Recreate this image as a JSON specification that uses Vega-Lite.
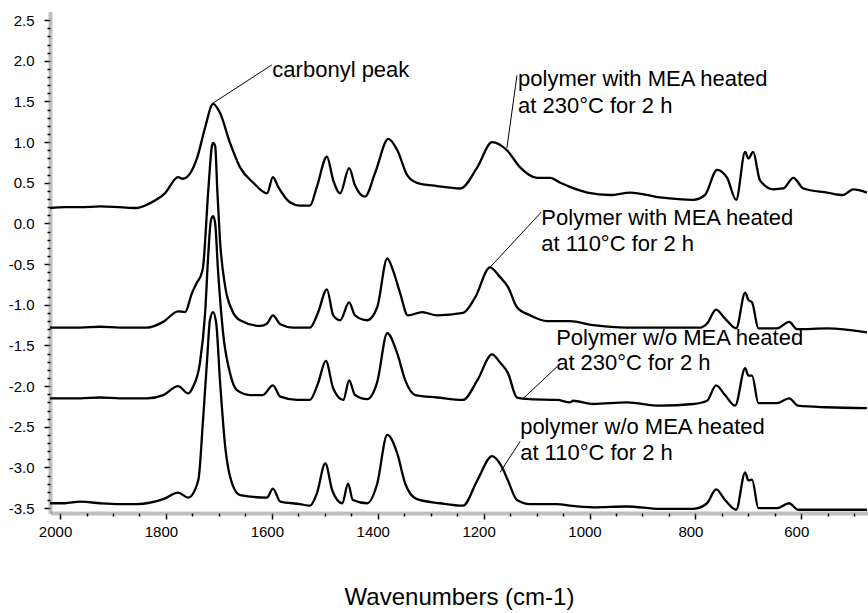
{
  "$schema": "https://vega.github.io/schema/vega-lite/v6.json",
  "width": 818,
  "height": 501,
  "autosize": {"type": "none"},
  "padding": {"left": 50, "top": 12, "right": 0, "bottom": 100},
  "background": "white",
  "config": {"view": {"stroke": null}, "font": "Liberation Sans"},
  "datasets": {
    "spec": [
      {"s":"A","w":2019,"a":0.19},{"s":"A","w":1991,"a":0.2},{"s":"A","w":1962,"a":0.2},{"s":"A","w":1924,"a":0.21},{"s":"A","w":1887,"a":0.2},{"s":"A","w":1855,"a":0.19},{"s":"A","w":1830,"a":0.25},{"s":"A","w":1802,"a":0.37},{"s":"A","w":1777,"a":0.57},{"s":"A","w":1768,"a":0.55},{"s":"A","w":1741,"a":0.81},{"s":"A","w":1726,"a":1.18},{"s":"A","w":1711,"a":1.47},{"s":"A","w":1698,"a":1.36},{"s":"A","w":1679,"a":0.99},{"s":"A","w":1660,"a":0.69},{"s":"A","w":1635,"a":0.5},{"s":"A","w":1609,"a":0.37},{"s":"A","w":1598,"a":0.57},{"s":"A","w":1588,"a":0.45},{"s":"A","w":1566,"a":0.26},{"s":"A","w":1547,"a":0.22},{"s":"A","w":1528,"a":0.22},{"s":"A","w":1515,"a":0.45},{"s":"A","w":1496,"a":0.82},{"s":"A","w":1484,"a":0.53},{"s":"A","w":1471,"a":0.37},{"s":"A","w":1454,"a":0.68},{"s":"A","w":1443,"a":0.47},{"s":"A","w":1424,"a":0.33},{"s":"A","w":1405,"a":0.62},{"s":"A","w":1380,"a":1.04},{"s":"A","w":1363,"a":0.9},{"s":"A","w":1344,"a":0.59},{"s":"A","w":1326,"a":0.5},{"s":"A","w":1288,"a":0.46},{"s":"A","w":1244,"a":0.43},{"s":"A","w":1212,"a":0.69},{"s":"A","w":1184,"a":1.0},{"s":"A","w":1156,"a":0.9},{"s":"A","w":1131,"a":0.69},{"s":"A","w":1099,"a":0.56},{"s":"A","w":1074,"a":0.56},{"s":"A","w":1055,"a":0.5},{"s":"A","w":1037,"a":0.45},{"s":"A","w":1004,"a":0.38},{"s":"A","w":961,"a":0.35},{"s":"A","w":923,"a":0.38},{"s":"A","w":867,"a":0.32},{"s":"A","w":804,"a":0.29},{"s":"A","w":782,"a":0.35},{"s":"A","w":759,"a":0.66},{"s":"A","w":740,"a":0.56},{"s":"A","w":723,"a":0.29},{"s":"A","w":706,"a":0.88},{"s":"A","w":700,"a":0.8},{"s":"A","w":691,"a":0.88},{"s":"A","w":678,"a":0.53},{"s":"A","w":653,"a":0.42},{"s":"A","w":634,"a":0.43},{"s":"A","w":615,"a":0.56},{"s":"A","w":596,"a":0.43},{"s":"A","w":551,"a":0.38},{"s":"A","w":521,"a":0.35},{"s":"A","w":502,"a":0.42},{"s":"A","w":476,"a":0.38},

      {"s":"B","w":2019,"a":-1.28},{"s":"B","w":1962,"a":-1.28},{"s":"B","w":1924,"a":-1.27},{"s":"B","w":1887,"a":-1.28},{"s":"B","w":1836,"a":-1.28},{"s":"B","w":1805,"a":-1.21},{"s":"B","w":1777,"a":-1.08},{"s":"B","w":1764,"a":-1.09},{"s":"B","w":1751,"a":-0.86},{"s":"B","w":1741,"a":-0.72},{"s":"B","w":1734,"a":-0.64},{"s":"B","w":1730,"a":-0.54},{"s":"B","w":1720,"a":0.41},{"s":"B","w":1713,"a":0.96},{"s":"B","w":1711,"a":0.99},{"s":"B","w":1707,"a":0.95},{"s":"B","w":1703,"a":0.41},{"s":"B","w":1698,"a":-0.2},{"s":"B","w":1688,"a":-0.78},{"s":"B","w":1675,"a":-1.07},{"s":"B","w":1660,"a":-1.19},{"s":"B","w":1622,"a":-1.26},{"s":"B","w":1609,"a":-1.23},{"s":"B","w":1598,"a":-1.13},{"s":"B","w":1584,"a":-1.24},{"s":"B","w":1560,"a":-1.28},{"s":"B","w":1528,"a":-1.28},{"s":"B","w":1513,"a":-1.1},{"s":"B","w":1496,"a":-0.81},{"s":"B","w":1484,"a":-1.13},{"s":"B","w":1471,"a":-1.19},{"s":"B","w":1454,"a":-0.97},{"s":"B","w":1443,"a":-1.13},{"s":"B","w":1420,"a":-1.19},{"s":"B","w":1401,"a":-1.03},{"s":"B","w":1382,"a":-0.43},{"s":"B","w":1371,"a":-0.58},{"s":"B","w":1358,"a":-0.85},{"s":"B","w":1343,"a":-1.13},{"s":"B","w":1316,"a":-1.09},{"s":"B","w":1288,"a":-1.13},{"s":"B","w":1239,"a":-1.1},{"s":"B","w":1216,"a":-0.91},{"s":"B","w":1188,"a":-0.54},{"s":"B","w":1169,"a":-0.66},{"s":"B","w":1154,"a":-0.78},{"s":"B","w":1137,"a":-1.03},{"s":"B","w":1112,"a":-1.13},{"s":"B","w":1080,"a":-1.2},{"s":"B","w":1037,"a":-1.2},{"s":"B","w":993,"a":-1.25},{"s":"B","w":929,"a":-1.28},{"s":"B","w":867,"a":-1.28},{"s":"B","w":791,"a":-1.28},{"s":"B","w":778,"a":-1.23},{"s":"B","w":761,"a":-1.06},{"s":"B","w":744,"a":-1.17},{"s":"B","w":723,"a":-1.29},{"s":"B","w":706,"a":-0.85},{"s":"B","w":700,"a":-0.94},{"s":"B","w":693,"a":-0.97},{"s":"B","w":681,"a":-1.29},{"s":"B","w":646,"a":-1.29},{"s":"B","w":623,"a":-1.21},{"s":"B","w":608,"a":-1.3},{"s":"B","w":551,"a":-1.29},{"s":"B","w":476,"a":-1.34},

      {"s":"C","w":2019,"a":-2.15},{"s":"C","w":1962,"a":-2.15},{"s":"C","w":1924,"a":-2.14},{"s":"C","w":1887,"a":-2.15},{"s":"C","w":1836,"a":-2.15},{"s":"C","w":1805,"a":-2.11},{"s":"C","w":1777,"a":-2.0},{"s":"C","w":1758,"a":-2.09},{"s":"C","w":1749,"a":-2.01},{"s":"C","w":1736,"a":-1.72},{"s":"C","w":1726,"a":-1.1},{"s":"C","w":1720,"a":-0.37},{"s":"C","w":1715,"a":0.04},{"s":"C","w":1711,"a":0.09},{"s":"C","w":1707,"a":0.0},{"s":"C","w":1702,"a":-0.54},{"s":"C","w":1692,"a":-1.35},{"s":"C","w":1679,"a":-1.84},{"s":"C","w":1666,"a":-2.05},{"s":"C","w":1641,"a":-2.11},{"s":"C","w":1617,"a":-2.11},{"s":"C","w":1598,"a":-1.99},{"s":"C","w":1584,"a":-2.13},{"s":"C","w":1552,"a":-2.17},{"s":"C","w":1528,"a":-2.17},{"s":"C","w":1513,"a":-1.97},{"s":"C","w":1498,"a":-1.69},{"s":"C","w":1484,"a":-2.03},{"s":"C","w":1465,"a":-2.17},{"s":"C","w":1454,"a":-1.93},{"s":"C","w":1443,"a":-2.11},{"s":"C","w":1420,"a":-2.16},{"s":"C","w":1401,"a":-1.95},{"s":"C","w":1382,"a":-1.35},{"s":"C","w":1363,"a":-1.6},{"s":"C","w":1348,"a":-1.93},{"s":"C","w":1329,"a":-2.11},{"s":"C","w":1288,"a":-2.14},{"s":"C","w":1239,"a":-2.17},{"s":"C","w":1212,"a":-1.93},{"s":"C","w":1184,"a":-1.61},{"s":"C","w":1169,"a":-1.71},{"s":"C","w":1154,"a":-1.84},{"s":"C","w":1137,"a":-2.14},{"s":"C","w":1112,"a":-2.16},{"s":"C","w":1061,"a":-2.17},{"s":"C","w":1037,"a":-2.2},{"s":"C","w":1031,"a":-2.18},{"s":"C","w":993,"a":-2.22},{"s":"C","w":929,"a":-2.2},{"s":"C","w":867,"a":-2.24},{"s":"C","w":804,"a":-2.22},{"s":"C","w":778,"a":-2.18},{"s":"C","w":761,"a":-1.99},{"s":"C","w":744,"a":-2.11},{"s":"C","w":725,"a":-2.24},{"s":"C","w":706,"a":-1.78},{"s":"C","w":700,"a":-1.87},{"s":"C","w":693,"a":-1.87},{"s":"C","w":681,"a":-2.21},{"s":"C","w":646,"a":-2.21},{"s":"C","w":623,"a":-2.15},{"s":"C","w":606,"a":-2.24},{"s":"C","w":551,"a":-2.26},{"s":"C","w":476,"a":-2.27},

      {"s":"D","w":2019,"a":-3.44},{"s":"D","w":1991,"a":-3.44},{"s":"D","w":1962,"a":-3.42},{"s":"D","w":1924,"a":-3.44},{"s":"D","w":1887,"a":-3.45},{"s":"D","w":1855,"a":-3.45},{"s":"D","w":1805,"a":-3.39},{"s":"D","w":1777,"a":-3.31},{"s":"D","w":1758,"a":-3.37},{"s":"D","w":1739,"a":-3.16},{"s":"D","w":1730,"a":-2.42},{"s":"D","w":1722,"a":-1.65},{"s":"D","w":1717,"a":-1.19},{"s":"D","w":1711,"a":-1.09},{"s":"D","w":1705,"a":-1.23},{"s":"D","w":1698,"a":-1.93},{"s":"D","w":1688,"a":-2.75},{"s":"D","w":1675,"a":-3.2},{"s":"D","w":1660,"a":-3.34},{"s":"D","w":1609,"a":-3.37},{"s":"D","w":1598,"a":-3.26},{"s":"D","w":1584,"a":-3.42},{"s":"D","w":1547,"a":-3.45},{"s":"D","w":1528,"a":-3.47},{"s":"D","w":1515,"a":-3.32},{"s":"D","w":1499,"a":-2.95},{"s":"D","w":1486,"a":-3.28},{"s":"D","w":1467,"a":-3.44},{"s":"D","w":1456,"a":-3.2},{"s":"D","w":1447,"a":-3.4},{"s":"D","w":1420,"a":-3.44},{"s":"D","w":1401,"a":-3.2},{"s":"D","w":1382,"a":-2.6},{"s":"D","w":1363,"a":-2.83},{"s":"D","w":1348,"a":-3.2},{"s":"D","w":1326,"a":-3.39},{"s":"D","w":1282,"a":-3.44},{"s":"D","w":1239,"a":-3.47},{"s":"D","w":1212,"a":-3.16},{"s":"D","w":1184,"a":-2.86},{"s":"D","w":1165,"a":-3.0},{"s":"D","w":1154,"a":-3.16},{"s":"D","w":1137,"a":-3.4},{"s":"D","w":1112,"a":-3.45},{"s":"D","w":1061,"a":-3.45},{"s":"D","w":1037,"a":-3.47},{"s":"D","w":993,"a":-3.49},{"s":"D","w":929,"a":-3.48},{"s":"D","w":867,"a":-3.51},{"s":"D","w":804,"a":-3.51},{"s":"D","w":778,"a":-3.44},{"s":"D","w":761,"a":-3.27},{"s":"D","w":744,"a":-3.4},{"s":"D","w":723,"a":-3.52},{"s":"D","w":706,"a":-3.06},{"s":"D","w":700,"a":-3.16},{"s":"D","w":693,"a":-3.15},{"s":"D","w":681,"a":-3.5},{"s":"D","w":646,"a":-3.5},{"s":"D","w":623,"a":-3.44},{"s":"D","w":606,"a":-3.52},{"s":"D","w":551,"a":-3.52},{"s":"D","w":476,"a":-3.52}
    ],
    "leaders": [
      {"w1":1711,"a1":1.48,"w2":1600,"a2":1.95},
      {"w1":1156,"a1":0.93,"w2":1137,"a2":1.82},
      {"w1":1188,"a1":-0.54,"w2":1091,"a2":0.14},
      {"w1":1125,"a1":-2.15,"w2":1061,"a2":-1.76},
      {"w1":1169,"a1":-3.06,"w2":1131,"a2":-2.68}
    ],
    "labels": [
      {"w":1599,"a":1.885,"t":"carbonyl peak"},
      {"w":1135,"a":1.774,"t":"polymer with MEA heated"},
      {"w":1135,"a":1.442,"t":"at 230°C for 2 h"},
      {"w":1091,"a":0.065,"t":"Polymer with MEA heated"},
      {"w":1091,"a":-0.255,"t":"at 110°C for 2 h"},
      {"w":1063,"a":-1.411,"t":"Polymer w/o MEA heated"},
      {"w":1063,"a":-1.719,"t":"at 230°C for 2 h"},
      {"w":1131,"a":-2.506,"t":"polymer w/o MEA heated"},
      {"w":1131,"a":-2.826,"t":"at 110°C for 2 h"}
    ]
  },
  "resolve": {"axis": {"x": "independent", "y": "independent"}},
  "layer": [
    {
      "data": {"name": "spec"},
      "mark": {"type": "line", "color": "black", "strokeWidth": 2.3, "interpolate": "monotone", "clip": true},
      "encoding": {
        "x": {
          "field": "w", "type": "quantitative",
          "scale": {"domain": [474, 2019], "reverse": true, "nice": false, "zero": false},
          "axis": {
            "orient": "bottom",
            "values": [600, 800, 1000, 1200, 1400, 1600, 1800, 2000],
            "format": "d",
            "labelOverlap": false,
            "labelFlush": false,
            "labelFontSize": 15,
            "labelColor": "black",
            "labelPadding": 5,
            "labelOffset": -5,
            "tickSize": 6,
            "tickColor": "black",
            "tickWidth": 1.5,
            "domainColor": "#808080",
            "domainWidth": 4,
            "domainDash": [1, 1],
            "grid": false,
            "title": "Wavenumbers (cm-1)",
            "titleFontSize": 24,
            "titleFontWeight": "normal",
            "titleColor": "black",
            "titlePadding": 46
          }
        },
        "y": {
          "field": "a", "type": "quantitative",
          "scale": {"domain": [-3.56, 2.6], "nice": false, "zero": false},
          "axis": {
            "orient": "left",
            "values": [-3.5, -3.0, -2.5, -2.0, -1.5, -1.0, -0.5, 0, 0.5, 1.0, 1.5, 2.0, 2.5],
            "labelExpr": "(datum.value < -0.001 ? '-' : '') + format(abs(datum.value), '.1f')",
            "labelOverlap": false,
            "labelFlush": false,
            "labelFontSize": 15,
            "labelColor": "black",
            "labelPadding": 10,
            "tickSize": 6,
            "tickColor": "black",
            "tickWidth": 1.5,
            "domainColor": "#808080",
            "domainWidth": 4,
            "domainDash": [1, 1],
            "grid": false,
            "title": null
          }
        },
        "detail": {"field": "s"}
      }
    },
    {
      "data": {"name": "leaders"},
      "mark": {"type": "rule", "color": "black", "strokeWidth": 1},
      "encoding": {
        "x": {
          "field": "w1", "type": "quantitative",
          "scale": {"domain": [474, 2019], "reverse": true, "nice": false, "zero": false},
          "axis": {
            "orient": "bottom",
            "values": [500,550,650,700,750,850,900,950,1050,1100,1150,1250,1300,1350,1450,1500,1550,1650,1700,1750,1850,1900,1950],
            "labels": false,
            "domain": false,
            "tickSize": 3,
            "tickColor": "black",
            "tickWidth": 1.5,
            "grid": false,
            "title": null
          }
        },
        "x2": {"field": "w2"},
        "y": {
          "field": "a1", "type": "quantitative",
          "scale": {"domain": [-3.56, 2.6], "nice": false, "zero": false},
          "axis": {
            "orient": "left",
            "values": [-3.4,-3.3,-3.2,-3.1,-2.9,-2.8,-2.7,-2.6,-2.4,-2.3,-2.2,-2.1,-1.9,-1.8,-1.7,-1.6,-1.4,-1.3,-1.2,-1.1,-0.9,-0.8,-0.7,-0.6,-0.4,-0.3,-0.2,-0.1,0.1,0.2,0.3,0.4,0.6,0.7,0.8,0.9,1.1,1.2,1.3,1.4,1.6,1.7,1.8,1.9,2.1,2.2,2.3,2.4],
            "labels": false,
            "domain": false,
            "tickSize": 3,
            "tickColor": "black",
            "tickWidth": 1.5,
            "grid": false,
            "title": null
          }
        },
        "y2": {"field": "a2"}
      }
    },
    {
      "data": {"name": "labels"},
      "mark": {"type": "text", "align": "left", "baseline": "middle", "fontSize": 22, "font": "Liberation Sans", "color": "black"},
      "encoding": {
        "x": {"field": "w", "type": "quantitative", "axis": null},
        "y": {"field": "a", "type": "quantitative", "axis": null},
        "text": {"field": "t"}
      }
    }
  ]
}
